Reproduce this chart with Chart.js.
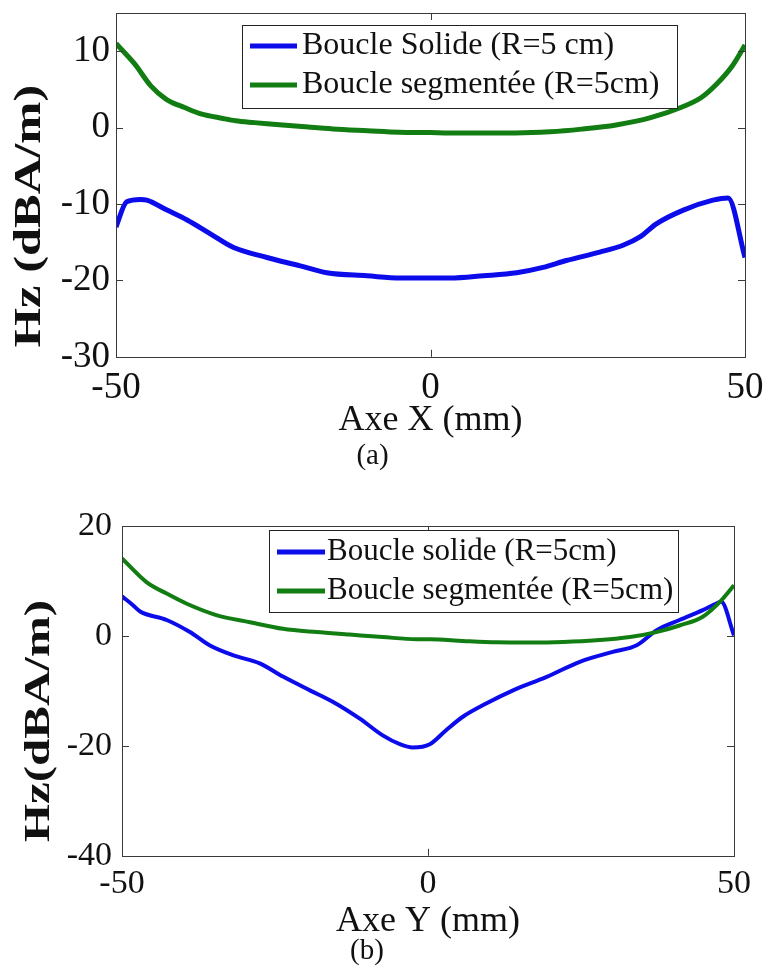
<!DOCTYPE html>
<html>
<head>
<meta charset="utf-8">
<script src="https://cdn.jsdelivr.net/npm/chart.js@4.4.0/dist/chart.umd.min.js"></script>
<style>
html, body { margin: 0; padding: 0; background: #fff; }
#wrap { position: relative; width: 766px; height: 969px; }
canvas { position: absolute; left: 0; }
</style>
</head>
<body>
<div id="wrap">
  <canvas id="chartA" width="766" height="480" style="top:0"></canvas>
  <canvas id="chartB" width="766" height="489" style="top:480px"></canvas>
</div>
<script>
// Ticks
var xTicks = [-50, 0, 50];
var yTicksA = [-30, -20, -10, 0, 10];
var yTicksB = [-40, -20, 0, 20];

// (a) Axe X - boucle solide
var xSolideA = [-50, -48.3, -46.1, -45.1, -41.9, -38.7, -35, -31.3, -26, -20.7, -16.5, -10.1, -4.8, 3.1, 8.4, 13.7, 17.9, 21.6, 26.9, 30.6, 33.3, 35.9, 40.2, 44.9, 47.3, 50];
var hzSolideA = [-13.0, -9.7, -9.4, -9.5, -10.8, -12.1, -13.9, -15.7, -17.0, -18.1, -19.0, -19.4, -19.7, -19.7, -19.4, -19.0, -18.3, -17.4, -16.3, -15.4, -14.3, -12.6, -10.8, -9.5, -9.2, -17.0];
// (a) Axe X - boucle segmentee
var xSegA = [-50, -47, -44.5, -42, -39, -36.5, -33, -31, -28, -26, -23, -20.5, -15.5, -10, -5, 0, 3, 8.5, 13.5, 19, 24, 29.5, 35, 40, 43, 45.5, 48, 50];
var hzSegA = [11.0, 8.3, 5.5, 3.7, 2.6, 1.8, 1.2, 0.9, 0.65, 0.5, 0.3, 0.14, -0.17, -0.4, -0.6, -0.65, -0.7, -0.7, -0.7, -0.55, -0.2, 0.35, 1.3, 2.7, 3.9, 5.7, 8.1, 10.8];

// (b) Axe Y - boucle solide
var xSolideB = [-50, -48.2, -47.1, -42.7, -38.9, -35.7, -31.9, -27.5, -23.7, -19.3, -15.5, -11.2, -7.4, -4.6, -2.5, 0.3, 3.0, 5.7, 9.5, 13.9, 19.3, 24.8, 30.2, 34.1, 37.3, 41.1, 44.9, 47.1, 47.9, 50];
var hzSolideB = [7.2, 5.6, 4.5, 2.9, 0.7, -1.7, -3.5, -5.0, -7.4, -9.9, -12.0, -15.0, -18.1, -19.7, -20.3, -19.7, -17.1, -14.7, -12.3, -9.9, -7.5, -4.7, -2.9, -1.7, 1.0, 2.9, 4.7, 5.9, 6.2, 0.1];
// (b) Axe Y - boucle segmentee
var xSegB = [-50, -46, -42.7, -39.5, -34.6, -29.1, -23.7, -18.2, -12.8, -7.4, -1.9, 0.3, 5.7, 11.2, 16.6, 22.1, 27.5, 33.0, 37.3, 41.1, 44.9, 47.7, 50];
var hzSegB = [14.1, 9.8, 7.7, 5.9, 3.8, 2.5, 1.3, 0.7, 0.25, -0.2, -0.6, -0.6, -0.9, -1.15, -1.2, -1.1, -0.8, -0.2, 0.7, 1.9, 3.5, 6.2, 9.2];

var labelsA = ['Boucle Solide (R=5 cm)', 'Boucle segmentée (R=5cm)'];
var labelsB = ['Boucle solide (R=5cm)', 'Boucle segmentée (R=5cm)'];

var serif = '"Liberation Serif", "Times New Roman", serif';
var BLUE = 'rgb(12, 12, 235)';
var GREEN = 'rgb(18, 125, 18)';

// cadre + petites graduations vers l'interieur (style matlab)
var frameTicks = {
    id: 'frameTicks',
    afterDatasetsDraw: function (chart) {
        var ctx = chart.ctx, a = chart.chartArea;
        var sx = chart.scales.x, sy = chart.scales.y;
        var len = 7;
        ctx.save();
        ctx.strokeStyle = '#3a3a3a';
        ctx.lineWidth = 1;
        ctx.strokeRect(Math.round(a.left) + 0.5, Math.round(a.top) + 0.5, Math.round(a.right - a.left), Math.round(a.bottom - a.top));
        ctx.beginPath();
        sx.ticks.forEach(function (t) {
            var px = Math.round(sx.getPixelForValue(t.value)) + 0.5;
            ctx.moveTo(px, a.bottom); ctx.lineTo(px, a.bottom - len);
            ctx.moveTo(px, a.top); ctx.lineTo(px, a.top + len);
        });
        sy.ticks.forEach(function (t) {
            var py = Math.round(sy.getPixelForValue(t.value)) + 0.5;
            ctx.moveTo(a.left, py); ctx.lineTo(a.left + len, py);
            ctx.moveTo(a.right, py); ctx.lineTo(a.right - len, py);
        });
        ctx.stroke();
        ctx.restore();
    }
};

// legende encadree dans la zone du graphe
var boxLegend = {
    id: 'boxLegend',
    afterDraw: function (chart, args, o) {
        var ctx = chart.ctx;
        ctx.save();
        ctx.fillStyle = '#fff';
        ctx.fillRect(o.left, o.top, o.right - o.left, o.bottom - o.top);
        ctx.strokeStyle = '#222';
        ctx.lineWidth = 1;
        ctx.strokeRect(o.left + 0.5, o.top + 0.5, o.right - o.left, o.bottom - o.top);
        ctx.font = o.font;
        ctx.textBaseline = 'middle';
        ctx.textAlign = 'left';
        chart.data.datasets.forEach(function (ds, i) {
            var y = o.rows[i];
            ctx.strokeStyle = ds.borderColor;
            ctx.lineWidth = o.lineWidth;
            ctx.beginPath();
            ctx.moveTo(o.x0, y);
            ctx.lineTo(o.x1, y);
            ctx.stroke();
            ctx.fillStyle = '#111';
            ctx.fillText(ds.label, o.textX, y);
        });
        ctx.restore();
    }
};

// titre de l'axe Y, etire dans le sens de la lecture comme sur la figure
var yLabel = {
    id: 'yLabel',
    afterDraw: function (chart, args, o) {
        var ctx = chart.ctx;
        ctx.save();
        ctx.translate(o.x, o.y);
        ctx.rotate(-Math.PI / 2);
        ctx.scale(o.stretch, 1);
        ctx.font = o.font;
        ctx.fillStyle = '#111';
        ctx.textAlign = 'center';
        ctx.textBaseline = 'middle';
        ctx.fillText(o.text, 0, 0);
        ctx.restore();
    }
};

function pts(xs, ys) {
    return xs.map(function (x, i) { return { x: x, y: ys[i] }; });
}

function buildChart(id, c) {
    return new Chart(document.getElementById(id), {
        type: 'line',
        data: {
            datasets: [{
                label: c.labels[0],
                data: pts(c.xSol, c.ySol),
                borderColor: BLUE,
                borderWidth: c.lw,
                pointRadius: 0,
                cubicInterpolationMode: 'monotone',
                fill: false,
                order: 2
            }, {
                label: c.labels[1],
                data: pts(c.xSeg, c.ySeg),
                borderColor: GREEN,
                borderWidth: c.lw,
                pointRadius: 0,
                cubicInterpolationMode: 'monotone',
                fill: false,
                order: 1
            }]
        },
        options: {
            responsive: false,
            animation: false,
            devicePixelRatio: 1,
            events: [],
            layout: { padding: c.pad },
            scales: {
                x: {
                    type: 'linear',
                    min: -50,
                    max: 50,
                    afterBuildTicks: function (s) { s.ticks = xTicks.map(function (v) { return { value: v }; }); },
                    afterFit: function (s) { s.height = c.xHeight; s.paddingLeft = 0; s.paddingRight = 0; },
                    grid: { display: false, drawTicks: false },
                    border: { display: false },
                    ticks: { autoSkip: false, maxRotation: 0, padding: c.xTickPad, color: '#111', font: { family: serif, size: c.tickSize } },
                    title: { display: true, text: c.xTitle, color: '#111', font: { family: serif, size: c.xTitleSize, lineHeight: 0.8 }, padding: { top: 0, bottom: c.xTitlePad } }
                },
                y: {
                    type: 'linear',
                    min: c.yMin,
                    max: c.yMax,
                    afterBuildTicks: function (s) { s.ticks = c.yTicks.map(function (v) { return { value: v }; }); },
                    afterFit: function (s) { s.width = c.yWidth; s.paddingTop = 0; s.paddingBottom = 0; },
                    grid: { display: false, drawTicks: false },
                    border: { display: false },
                    ticks: { autoSkip: false, padding: c.yTickPad, color: '#111', font: { family: serif, size: c.tickSize } }
                }
            },
            plugins: {
                legend: { display: false },
                tooltip: { enabled: false },
                title: {
                    display: true,
                    position: 'bottom',
                    text: c.caption,
                    color: '#111',
                    font: { family: serif, size: 29, weight: 'normal', lineHeight: 0.8 },
                    padding: c.captionPad
                },
                boxLegend: c.legend,
                yLabel: c.yLabel
            }
        },
        plugins: [frameTicks, boxLegend, yLabel]
    });
}

// (a)
buildChart('chartA', {
    labels: labelsA,
    xSol: xSolideA, ySol: hzSolideA,
    xSeg: xSegA, ySeg: hzSegA,
    yTicks: yTicksA, yMin: -30, yMax: 15,
    lw: 5,
    pad: { top: 13, right: 21, left: 0, bottom: 0 },
    yWidth: 116, yTickPad: 6,
    xHeight: 84, xTickPad: 9,
    tickSize: 37,
    xTitle: 'Axe X (mm)', xTitleSize: 36, xTitlePad: 6,
    caption: '(a)', captionPad: { top: 4, bottom: 12 },
    legend: { left: 242, top: 25, right: 677, bottom: 108, rows: [46, 85], x0: 250, x1: 297, textX: 302, lineWidth: 5, font: '32px ' + serif },
    yLabel: { text: 'Hz (dBA/m)', x: 30, y: 216, stretch: 1.33, font: 'bold 38px ' + serif }
});

// (b)
buildChart('chartB', {
    labels: labelsB,
    xSol: xSolideB, ySol: hzSolideB,
    xSeg: xSegB, ySeg: hzSegB,
    yTicks: yTicksB, yMin: -40, yMax: 20,
    lw: 4,
    pad: { top: 46, right: 32, left: 0, bottom: 0 },
    yWidth: 122, yTickPad: 10,
    xHeight: 80, xTickPad: 8,
    tickSize: 34,
    xTitle: 'Axe Y (mm)', xTitleSize: 36, xTitlePad: 0,
    caption: '(b)', captionPad: { top: 4, bottom: 6 },
    legend: { left: 269, top: 50, right: 678, bottom: 132, rows: [72, 111], x0: 277, x1: 325, textX: 327, lineWidth: 5, font: '31px ' + serif },
    yLabel: { text: 'Hz(dBA/m)', x: 40, y: 241, stretch: 1.36, font: 'bold 36px ' + serif }
});
</script>
</body>
</html>
